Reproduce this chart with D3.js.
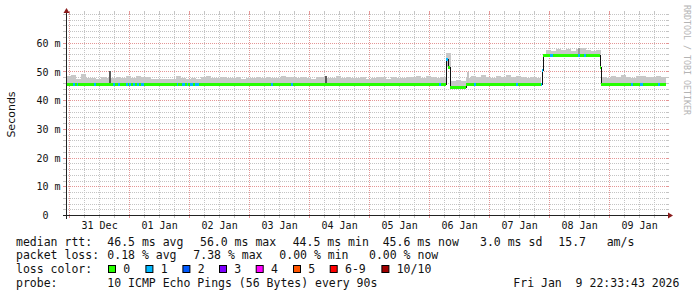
<!DOCTYPE html>
<html>
<head>
<meta charset="utf-8">
<script src="https://cdn.jsdelivr.net/npm/d3@7"></script>
<style>
  body { margin: 0; background: #fff; }
  svg { display: block; }
  text { font-family: "DejaVu Sans Mono", monospace; white-space: pre; }
</style>
</head>
<body>
<div id="chart"></div>
<script>
// median rtt (ms), step changes
const medianSteps = [
  ["2025-12-30T22:33:43Z", 45.7],
  ["2026-01-06T06:36:00Z", 54.4],
  ["2026-01-06T07:24:00Z", 51.6],
  ["2026-01-06T08:12:00Z", 44.6],
  ["2026-01-06T14:36:00Z", 45.7],
  ["2026-01-07T21:00:00Z", 50.4],
  ["2026-01-07T21:24:00Z", 55.7],
  ["2026-01-08T20:12:00Z", 51.5],
  ["2026-01-08T20:36:00Z", 45.7]
];

// periods with lost pings: [from, to, lost]
const lossRuns = [
  ["2025-12-31T01:14:00Z", "2025-12-31T02:10:00Z", 1],
  ["2025-12-31T02:50:00Z", "2025-12-31T03:10:00Z", 1],
  ["2025-12-31T09:46:00Z", "2025-12-31T10:34:00Z", 1],
  ["2025-12-31T17:22:00Z", "2025-12-31T18:10:00Z", 1],
  ["2025-12-31T19:22:00Z", "2025-12-31T20:10:00Z", 1],
  ["2025-12-31T22:34:00Z", "2025-12-31T23:10:00Z", 1],
  ["2025-12-31T23:46:00Z", "2026-01-01T00:34:00Z", 1],
  ["2026-01-01T01:22:00Z", "2026-01-01T01:58:00Z", 1],
  ["2026-01-01T02:58:00Z", "2026-01-01T03:46:00Z", 1],
  ["2026-01-01T04:34:00Z", "2026-01-01T05:46:00Z", 1],
  ["2026-01-01T18:58:00Z", "2026-01-01T19:22:00Z", 1],
  ["2026-01-01T20:58:00Z", "2026-01-01T21:58:00Z", 1],
  ["2026-01-01T22:58:00Z", "2026-01-01T23:22:00Z", 1],
  ["2026-01-02T00:10:00Z", "2026-01-02T01:22:00Z", 1],
  ["2026-01-02T02:10:00Z", "2026-01-02T03:46:00Z", 1],
  ["2026-01-03T08:34:00Z", "2026-01-03T09:22:00Z", 1],
  ["2026-01-03T16:34:00Z", "2026-01-03T17:22:00Z", 1],
  ["2026-01-06T03:46:00Z", "2026-01-06T04:34:00Z", 1],
  ["2026-01-06T06:36:00Z", "2026-01-06T07:24:00Z", 1],
  ["2026-01-06T17:46:00Z", "2026-01-06T18:34:00Z", 1],
  ["2026-01-07T10:34:00Z", "2026-01-07T11:10:00Z", 1],
  ["2026-01-07T20:34:00Z", "2026-01-07T21:24:00Z", 1],
  ["2026-01-08T00:10:00Z", "2026-01-08T01:22:00Z", 1],
  ["2026-01-08T11:22:00Z", "2026-01-08T12:10:00Z", 1],
  ["2026-01-08T13:46:00Z", "2026-01-08T14:34:00Z", 1],
  ["2026-01-09T08:34:00Z", "2026-01-09T09:22:00Z", 1],
  ["2026-01-09T12:10:00Z", "2026-01-09T13:22:00Z", 1],
  ["2026-01-09T19:22:00Z", "2026-01-09T20:10:00Z", 1]
];

// top of the smoke (max rtt, ms) in 2 hour steps from the start
const smokeTop = [
  48.6, 48.9, 47.7, 49.2, 47.8, 48.0, 47.7, 48.2, 48.0,
  48.0, 48.3, 47.8, 48.5, 47.9, 48.6, 48.2, 48.4, 47.7, 47.5, 47.4, 47.6,
  47.5, 48.7, 47.8, 47.7, 47.9, 47.6, 48.3, 48.5, 48.0, 47.9, 48.1, 47.8,
  47.9, 48.2, 47.7, 47.8, 48.0, 48.3, 47.9, 48.4, 47.8, 48.0, 48.6, 48.1,
  48.2, 47.9, 48.4, 48.0, 47.7, 48.1, 48.3, 47.8, 48.0, 48.5, 47.9, 48.2,
  48.0, 47.8, 48.3, 47.6, 47.9, 48.4, 48.1, 47.7, 48.2, 48.0, 47.8, 48.3,
  48.2, 48.5, 48.0, 48.7, 48.3, 47.9, 48.4,
  56.7,
  47.0, 47.3, 46.9,
  48.0,
  48.6, 48.2, 48.8, 48.4, 48.0, 48.6, 48.3, 48.9, 48.1, 48.5, 48.2, 47.9, 48.3, 47.8,
  47.9,
  57.6, 57.2, 58.0, 57.5, 57.9, 57.3, 58.1, 58.5, 57.7, 57.4, 57.8,
  48.3, 48.0, 48.6, 48.2, 48.8, 48.4, 48.0, 48.5, 48.7, 48.1, 48.4, 48.6, 48.2
];

// single darker pings: [time, top ms, shade]
const spikes = [
  ["2025-12-31T16:10:00Z", 50.2, "#5a5a5a"],
  ["2026-01-04T06:36:00Z", 48.6, "#5a5a5a"],
  ["2026-01-06T15:24:00Z", 49.9, "#c4c4c4"],
  ["2026-01-08T11:36:00Z", 58.5, "#9a9a9a"]
];

const yTicks = [0, 10, 20, 30, 40, 50, 60];

const medianStats = ["46.5 ms avg", "56.0 ms max", "44.5 ms min", "45.6 ms now", "3.0 ms sd", "15.7", "am/s"];
const lossStats = ["0.18 % avg", "7.38 % max", "0.00 % min", "0.00 % now"];
const lossLabels = ["0", "1", "2", "3", "4", "5", "6-9", "10/10"];
const lossColors = ["#26ff00", "#00b8ff", "#0059ff", "#7e00ff", "#ff00ff", "#ff5500", "#ff0000", "#a10000"];
const probeText = "10 ICMP Echo Pings (56 Bytes) every 90s";
const stampText = "Fri Jan  9 22:33:43 2026";

// legend layout
const medianX = [107.3, 200, 292.7, 382.7, 480, 558.3, 606.7];
const lossX = [107.3, 193.3, 279.3, 369];
const swatchX = [108.3, 145.7, 182.7, 219.3, 256, 293.3, 330, 381.7];

const W = 697, H = 297;
const t0 = new Date("2025-12-30T22:33:43Z"), t1 = new Date("2026-01-09T22:33:43Z");
const x = d3.scaleUtc().domain([t0, t1]).range([66, 666]);
const y = d3.scaleLinear().domain([0, 70]).range([215.5, 14.5]);
const px = v => Math.floor(v) + 0.5;

const steps = medianSteps.map(d => ({ t: new Date(d[0]), v: d[1] }));
const runs = lossRuns.map(d => ({ a: new Date(d[0]), b: new Date(d[1]), n: d[2] }));
const medianAt = t => steps.filter(s => s.t <= t).pop().v;
const lossAt = t => { const r = runs.find(r => r.a <= t && t < r.b); return r ? r.n : 0; };
const lossColor = n => n === 0 ? lossColors[0] : n >= 10 ? lossColors[7] : n >= 6 ? lossColors[6] : lossColors[n];

const svg = d3.select("#chart").append("svg")
  .attr("width", W).attr("height", H)
  .style("background", "#fff");

// grid
const grid = svg.append("g");
const minorY = d3.range(2, 71, 2).filter(v => v % 10 !== 0 || v === 70);
const majorY = yTicks.filter(v => v > 0);
function hLine(v, color) {
  const yy = px(y(v));
  grid.append("line").attr("x1", 66).attr("x2", 666).attr("y1", yy).attr("y2", yy)
    .attr("stroke", color).attr("stroke-dasharray", "1,1");
  grid.append("line").attr("x1", 63).attr("x2", 66).attr("y1", yy).attr("y2", yy).attr("stroke", color);
  grid.append("line").attr("x1", 666).attr("x2", 669).attr("y1", yy).attr("y2", yy).attr("stroke", color);
}
function vLine(t, color) {
  const xx = px(x(t));
  grid.append("line").attr("x1", xx).attr("x2", xx).attr("y1", 14).attr("y2", 215)
    .attr("stroke", color).attr("stroke-dasharray", "1,1");
  grid.append("line").attr("x1", xx).attr("x2", xx).attr("y1", 215).attr("y2", 218).attr("stroke", color);
  grid.append("line").attr("x1", xx).attr("x2", xx).attr("y1", 11).attr("y2", 14).attr("stroke", color);
}
minorY.forEach(v => hLine(v, "#c4c4c4"));
const days = d3.utcDay.range(t0, t1);
d3.utcHour.every(6).range(t0, t1).filter(t => t.getUTCHours() !== 0).forEach(t => vLine(t, "#c4c4c4"));
majorY.forEach(v => hLine(v, "#e49696"));
days.forEach(t => vLine(t, "#e49696"));

// smoke
const plot = svg.append("g");
const binMs = 2 * 3600 * 1000;
plot.selectAll("rect.smoke").data(smokeTop).join("rect")
  .attr("class", "smoke")
  .attr("x", (d, i) => x(new Date(+t0 + i * binMs)))
  .attr("width", (d, i) => x(new Date(+t0 + (i + 1) * binMs)) - x(new Date(+t0 + i * binMs)))
  .attr("y", d => y(d))
  .attr("height", (d, i) => Math.max(0, y(medianAt(new Date(+t0 + (i + 0.5) * binMs))) - y(d)))
  .attr("fill", "#c8c8c8")
  .attr("shape-rendering", "crispEdges");

plot.selectAll("rect.spike").data(spikes).join("rect")
  .attr("class", "spike")
  .attr("x", d => x(new Date(d[0])) - 1)
  .attr("width", 2)
  .attr("y", d => y(d[1]))
  .attr("height", d => y(medianAt(new Date(d[0]))) - y(d[1]))
  .attr("fill", d => d[2])
  .attr("shape-rendering", "crispEdges");

// median connector
const stepLine = d3.line().curve(d3.curveStepAfter).x(d => x(d.t)).y(d => y(d.v));
plot.append("path")
  .attr("d", stepLine(steps.concat([{ t: t1, v: steps[steps.length - 1].v }])))
  .attr("fill", "none").attr("stroke", "#111").attr("stroke-width", 1)
  .attr("shape-rendering", "crispEdges");

// median band coloured by loss
const cuts = Array.from(new Set(
  [t0, t1].concat(steps.map(s => s.t), runs.map(r => r.a), runs.map(r => r.b)).map(Number)
)).sort((a, b) => a - b);
const segs = [];
for (let i = 0; i < cuts.length - 1; i++) {
  const mid = new Date((cuts[i] + cuts[i + 1]) / 2);
  segs.push({ a: new Date(cuts[i]), b: new Date(cuts[i + 1]), v: medianAt(mid), n: lossAt(mid) });
}
plot.selectAll("rect.med").data(segs).join("rect")
  .attr("class", "med")
  .attr("x", d => x(d.a))
  .attr("width", d => x(d.b) - x(d.a))
  .attr("y", d => y(d.v) - 1.5)
  .attr("height", 3)
  .attr("fill", d => lossColor(d.n))
  .attr("shape-rendering", "crispEdges");

// axes
const axis = svg.append("g");
axis.append("line").attr("x1", 63).attr("x2", 668).attr("y1", 215.5).attr("y2", 215.5).attr("stroke", "#222");
axis.append("line").attr("x1", 66.5).attr("x2", 66.5).attr("y1", 12).attr("y2", 219).attr("stroke", "#222");
axis.append("path").attr("d", "M668,212.5L673,215.5L668,218.5Z").attr("fill", "#8a1c1c");
axis.append("path").attr("d", "M63.5,13L66.5,8L69.5,13Z").attr("fill", "#8a1c1c");

// y labels
svg.append("g").selectAll("text").data(yTicks).join("text")
  .attr("x", 60.5).attr("y", d => y(d)).attr("dy", "0.36em")
  .attr("text-anchor", "end").attr("font-size", "10px").attr("fill", "#111")
  .text(d => d === 0 ? "0  " : d + " m");

// x labels
const fmt = d3.utcFormat("%d %b");
svg.append("g").selectAll("text").data(d3.utcDay.range(d3.utcDay.ceil(t0), t1)).join("text")
  .attr("x", d => x(d3.utcHour.offset(d, 12))).attr("y", 228.8)
  .attr("text-anchor", "middle").attr("font-size", "10px").attr("fill", "#111")
  .text(d => fmt(d));

svg.append("text")
  .attr("transform", "translate(15,114.5) rotate(-90)")
  .attr("text-anchor", "middle")
  .style("font-family", "'DejaVu Sans', sans-serif")
  .attr("font-size", "11px").attr("fill", "#111")
  .text("Seconds");

svg.append("text")
  .attr("transform", "translate(684,5) rotate(90)")
  .attr("font-size", "8.3px").attr("fill", "#b4b4b4")
  .text("RRDTOOL / TOBI OETIKER");

// legend
const leg = svg.append("g").attr("font-size", "11.5px").attr("fill", "#111");
const rowY = i => 245.5 + i * 13.85;
leg.append("text").attr("x", 16).attr("y", rowY(0)).text("median rtt:");
medianStats.forEach((s, i) => leg.append("text").attr("x", medianX[i]).attr("y", rowY(0)).text(s));
leg.append("text").attr("x", 16).attr("y", rowY(1)).text("packet loss:");
lossStats.forEach((s, i) => leg.append("text").attr("x", lossX[i]).attr("y", rowY(1)).text(s));
leg.append("text").attr("x", 16).attr("y", rowY(2)).text("loss color:");
lossLabels.forEach((s, i) => {
  leg.append("rect").attr("x", swatchX[i] + 0.2).attr("y", 265.5).attr("width", 7).attr("height", 7)
    .attr("fill", lossColors[i]).attr("stroke", "#000").attr("stroke-width", 1);
  leg.append("text").attr("x", swatchX[i] + 15).attr("y", rowY(2)).text(s);
});
leg.append("text").attr("x", 16).attr("y", rowY(3)).text("probe:");
leg.append("text").attr("x", 107.3).attr("y", rowY(3)).text(probeText);
leg.append("text").attr("x", 513.3).attr("y", rowY(3)).text(stampText);
</script>
</body>
</html>
